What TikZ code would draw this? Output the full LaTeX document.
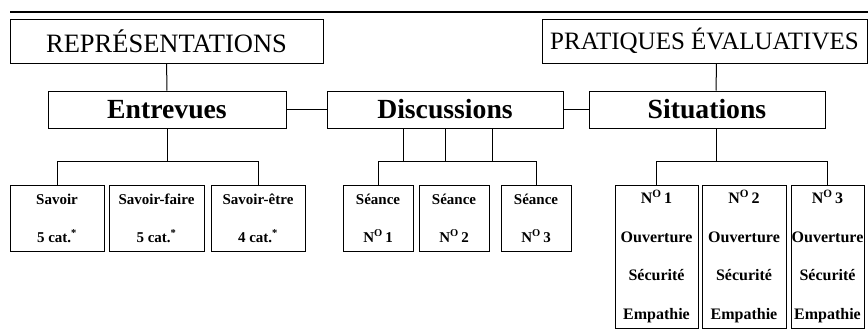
\documentclass[tikz,border=0pt]{standalone}
\usepackage{fontspec}
\setmainfont{Liberation Serif}
\usetikzlibrary{positioning, calc}

\begin{document}
\begin{tikzpicture}[
    x=1pt, y=-1pt,
    box/.style={draw, line width=1pt, inner sep=0pt, align=center},
    topbox/.style={box, minimum height=44pt, font=\fontsize{25}{26}\selectfont},
    midbox/.style={box, minimum height=37pt, font=\fontsize{27.7}{29}\selectfont\bfseries},
    smallbox/.style={box, minimum height=66pt, font=\fontsize{15}{38}\selectfont\bfseries},
    sitbox/.style={box, minimum height=143pt, font=\fontsize{16}{38.5}\selectfont\bfseries},
    conn/.style={line width=1pt}
  ]
    \useasboundingbox (0,0) rectangle (868,330);
    \draw[line width=2.6pt] (10,12) -- (868,12);
    \node[topbox, minimum width=313pt, font=\fontsize{26.5}{28}\selectfont]
      (rep) at (166.5,41) {REPRÉSENTATIONS};
    \node[topbox, minimum width=325pt] (prat) at (704.5,41)
      {PRATIQUES ÉVALUATIVES};
    \node[midbox, minimum width=238pt] (entr) at (167,109.5) {Entrevues};
    \node[midbox, minimum width=236pt] (disc) at (445,109.5) {Discussions};
    \node[midbox, minimum width=236pt] (sit) at (707,109.5) {Situations};
    \node[smallbox, minimum width=94pt] (sav) at (57,218)
      {Savoir\\5 cat.\textsuperscript{*}};
    \node[smallbox, minimum width=95pt] (savf) at (156.5,218)
      {Savoir-faire\\5 cat.\textsuperscript{*}};
    \node[smallbox, minimum width=94pt] (savet) at (258,218)
      {Savoir-être\\4 cat.\textsuperscript{*}};
    \node[smallbox, minimum width=70pt] (sea1) at (378,218)
      {Séance\\N\textsuperscript{O}\,1};
    \node[smallbox, minimum width=70pt] (sea2) at (454,218)
      {Séance\\N\textsuperscript{O}\,2};
    \node[smallbox, minimum width=70pt] (sea3) at (536,218)
      {Séance\\N\textsuperscript{O}\,3};
    \node[sitbox, minimum width=83pt] (num1) at (656.5,256.5)
      {N\textsuperscript{O}\,1\\Ouverture\\Sécurité\\Empathie};
    \node[sitbox, minimum width=84pt] (num2) at (744,256.5)
      {N\textsuperscript{O}\,2\\Ouverture\\Sécurité\\Empathie};
    \node[sitbox, minimum width=73pt] (num3) at (827.5,256.5)
      {N\textsuperscript{O}\,3\\Ouverture\\Sécurité\\Empathie};
    \draw[conn] (rep) -- (entr);
    \draw[conn] ([xshift=12pt]prat.south) -- ([xshift=9pt]sit.north);
    \draw[conn] (entr) -- (disc);
    \draw[conn] (disc) -- (sit);
    \draw[conn] (entr.south) -- ++(0,33) coordinate (ebus);
    \draw[conn] (sav.north) |- (ebus) -| (savet.north);
    \draw[conn] (disc.south) -- ++(0,33) coordinate (dbus);
    \draw[conn] ([xshift=-42pt]disc.south) -- ([xshift=-42pt]disc.south |- dbus);
    \draw[conn] ([xshift=47pt]disc.south) -- ([xshift=47pt]disc.south |- dbus);
    \draw[conn] (sea1.north) |- (dbus) -| (sea3.north);
    \draw[conn] ([xshift=9pt]sit.south) -- ++(0,33) coordinate (sbus);
    \draw[conn] (num1.north) |- (sbus) -| (num3.north);
  \end{tikzpicture}
\end{document}
